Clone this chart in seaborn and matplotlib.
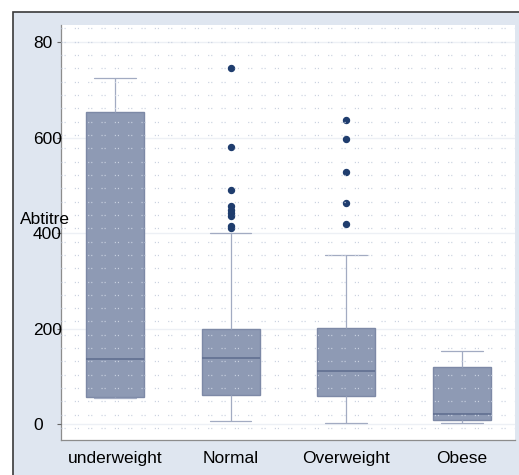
import numpy as np
import pandas as pd
import matplotlib
matplotlib.use("Agg")
import matplotlib.pyplot as plt
import seaborn as sns
from matplotlib.patches import Rectangle
from matplotlib.ticker import FixedLocator

# summary values
groups = ["underweight", "Normal", "Overweight", "Obese"]
whisker_lo = [55, 6, 2, 2]
q1 = [57, 61, 58, 8]
median = [136, 138, 111, 21]
q3 = [653, 200, 201, 119]
whisker_hi = [725, 400, 354, 153]
outliers = [[],
            [745, 580, 490, 457, 448, 442, 436, 414, 410],
            [637, 597, 528, 463, 419],
            []]

ytick_vals = [0, 200, 400, 600, 800]
ytick_labels = ["0", "200", "400", "600", "80"]

# rebuild a sample per group that gives back these quartiles / whiskers
k = max(len(o) for o in outliers) + 1
rows = []
for i, g in enumerate(groups):
    vals = ([whisker_lo[i]] + [q1[i]] * k + [median[i]] * k + [q3[i]] * k
            + [whisker_hi[i]] * (k - len(outliers[i])) + outliers[i])
    rows += [(g, v) for v in vals]
df = pd.DataFrame(rows, columns=["bmi", "Abtitre"])

sns.set_style("white")
plt.rcParams["font.family"] = ["Liberation Sans", "DejaVu Sans"]
plt.rcParams["lines.scale_dashes"] = False
plt.rcParams["text.color"] = "black"
plt.rcParams["axes.labelcolor"] = "black"
plt.rcParams["xtick.color"] = "black"
plt.rcParams["ytick.color"] = "black"

fig = plt.figure(figsize=(5.19, 4.75), dpi=100)
fig.patch.set_facecolor("white")
# outer graph region
bg = Rectangle((13 / 519, -0.05), 1.0, 1 - 12 / 475 + 0.05,
               transform=fig.transFigure, facecolor="#dfe6f0",
               edgecolor="#3a3a3a", lw=1.2, zorder=-5)
fig.add_artist(bg)
ax = fig.add_axes([61 / 519, 35 / 475, 454 / 519, 415 / 475])
ax.set_zorder(2)
ax.set_facecolor("white")

# faint solid lines at the labelled ticks, under the boxes
for v in ytick_vals:
    ax.axhline(v, color="#edf0f5", lw=1, zorder=0.5)

sns.boxplot(data=df, x="bmi", y="Abtitre", order=groups, color="#8e9ab4",
            saturation=1, width=0.5, linecolor="#7d89a6", linewidth=1,
            whis=1.5, ax=ax,
            medianprops=dict(color="#5d6c8e", linewidth=1.1),
            whiskerprops=dict(color="#a2abc2", linewidth=0.9),
            capprops=dict(color="#a2abc2", linewidth=0.9),
            flierprops=dict(marker="o", markerfacecolor="#1f3d6e",
                            markeredgecolor="#1f3d6e", markersize=4.3))

# widen the whisker caps (seaborn draws them at half the box width)
for line in ax.lines:
    x = np.asarray(line.get_xdata(), dtype=float)
    y = np.asarray(line.get_ydata(), dtype=float)
    if len(x) == 2 and y[0] == y[1] and abs((x[1] - x[0]) - 0.25) < 0.01:
        c = x.mean()
        line.set_xdata([c - 0.18, c + 0.18])

ax.set_xlim(-0.467, 3.46)
ax.set_ylim(-33.5, 835.6)
ax.set_yticks(ytick_vals, ytick_labels)
ax.yaxis.set_minor_locator(FixedLocator(np.arange(828.5, -40, -27.9)))
ax.grid(axis="y", which="minor", color="#c9d1e0", lw=0.9,
        linestyle=(0, (0.8, 1.4, 0.8, 6.6)))
ax.set_axisbelow(False)

for s in ["top", "right"]:
    ax.spines[s].set_visible(False)
for s in ["left", "bottom"]:
    ax.spines[s].set_color("#8c8c8c")
    ax.spines[s].set_linewidth(0.9)

ax.tick_params(axis="y", which="minor", length=0)
ax.tick_params(axis="y", which="major", left=True, length=3, width=0.8,
               color="#666666", labelcolor="black", labelsize=12.5, pad=17.2)
ax.tick_params(axis="x", length=0, labelsize=12.5, labelcolor="black", pad=8)
for lab in ax.get_yticklabels():
    lab.set_horizontalalignment("left")

ax.set_xlabel("")
ax.set_ylabel("Abtitre", rotation=0, fontsize=12.5, color="black",
              ha="center", va="center")
ax.yaxis.set_label_coords(-0.035, 0.5325)

fig.savefig("out.png", dpi=100)
